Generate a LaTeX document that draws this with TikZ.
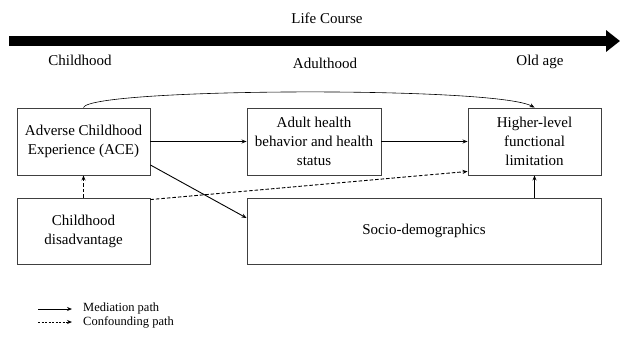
\documentclass[tikz,border=0pt]{standalone}
\usepackage{fontspec}
\setmainfont{Liberation Serif}
\usetikzlibrary{arrows.meta,calc}
\begin{document}
\begin{tikzpicture}[x=1pt,y=-1pt,
  box/.style={draw=black!75,line width=0.9pt,align=center,inner sep=0pt,font=\fontsize{15}{19}\selectfont},
  lbl/.style={font=\fontsize{15}{18}\selectfont},
  path/.style={draw=black,line width=0.9pt,-{Stealth[length=5pt,width=4pt]}},
  conf/.style={path,dashed,dash pattern=on 3.5pt off 2pt},
  leg/.style={font=\fontsize{12.5}{14}\selectfont,anchor=west,inner sep=0pt}]
\useasboundingbox (0,0) rectangle (620,337);
% life course arrow
\coordinate (lcs) at (9,41);
\coordinate (lce) at (620,41);
\draw[line width=10pt,-{Triangle[length=14pt,width=21pt]}] (lcs) -- (lce);
\node[lbl] (lc) at (327,18) {Life Course};
\node[lbl] (ch) at (80,60) {Childhood};
\node[lbl] (ad) at (325,63) {Adulthood};
\node[lbl] (oa) at (540,62) {Old age};
% boxes
\node[box,minimum width=133pt,minimum height=67pt] (ace) at (83.5,141.5) {Adverse Childhood\\Experience (ACE)};
\node[box,minimum width=133pt,minimum height=66pt] (cd) at (83.5,231) {Childhood\\disadvantage};
\node[box,minimum width=134pt,minimum height=67pt] (ah) at (314,141.5) {Adult health\\behavior and health\\status};
\node[box,minimum width=133pt,minimum height=67pt] (hl) at (534.5,141.5) {Higher-level\\functional\\limitation};
\node[box,minimum width=354pt,minimum height=66pt] (sd) at (424,231) {Socio-demographics};
% connectors
\draw[path] (ace) -- (ah);
\draw[path] (ah) -- (hl);
\draw[path] ($(ace.east)+(0,23.5)$) -- ($(sd.west)+(0,-13)$);
\draw[conf] (cd.north) -- (ace.south);
\draw[conf] ($(cd.north east)+(0,2)$) -- ($(hl.south west)+(0,-4)$);
\draw[path] (sd.north -| hl.south) -- (hl.south);
\draw[path,line width=0.6pt] (ace.north) .. controls (90,88) and (495,86) .. (hl.north);
% legend
\coordinate (m1) at (38,309); \coordinate (m2) at (72,309);
\coordinate (c1) at (38,322); \coordinate (c2) at (72,322);
\draw[path] (m1) -- (m2);
\draw[conf,dash pattern=on 2pt off 1.5pt] (c1) -- (c2);
\node[leg] (lm) at (83,308.5) {Mediation path};
\node[leg] (lcf) at (83,322) {Confounding path};
\end{tikzpicture}
\end{document}
